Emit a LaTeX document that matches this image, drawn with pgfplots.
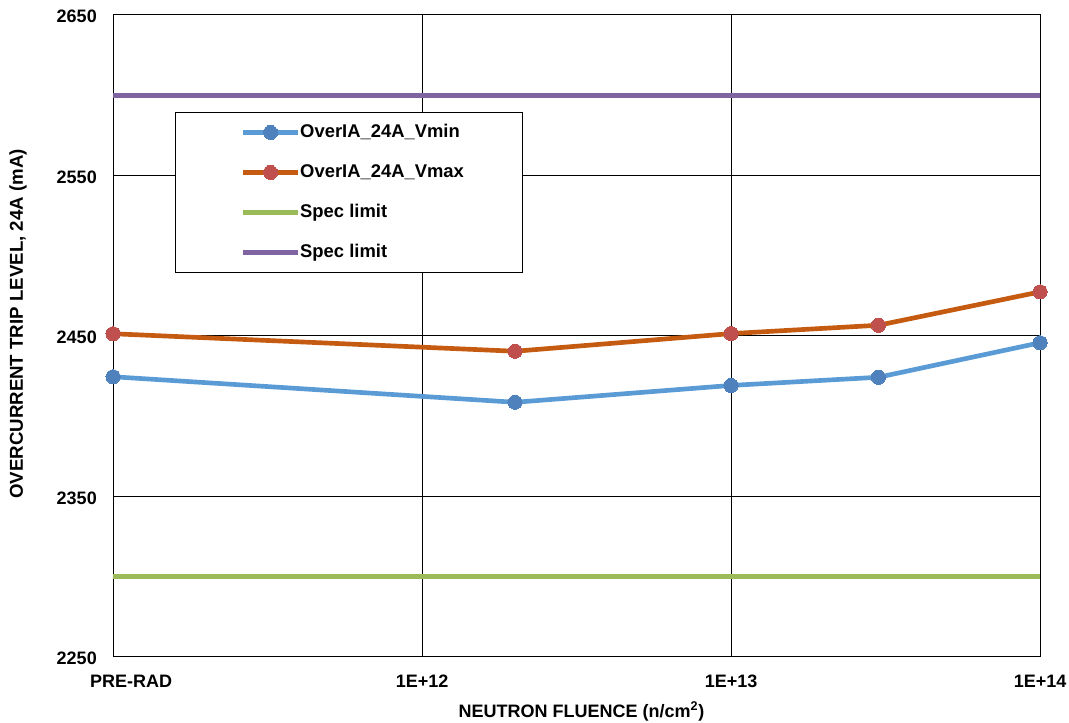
\documentclass[border=0pt]{standalone}
\usepackage{fontspec}
\setmainfont{Liberation Sans}
\usepackage{pgfplots}
\pgfplotsset{compat=1.18}
\definecolor{bline}{HTML}{5B9BD5}
\definecolor{bmark}{HTML}{4F81BD}
\definecolor{oline}{HTML}{C55A11}
\definecolor{omark}{HTML}{C0504D}
\definecolor{gline}{HTML}{9BBB59}
\definecolor{pline}{HTML}{8064A2}
\begin{document}
\begin{tikzpicture}
\useasboundingbox (0,0) rectangle (801.75pt,542.25pt);
\begin{axis}[
  at={(84.75pt,49.5pt)}, anchor=south west,
  scale only axis, width=695.25pt, height=481.5pt,
  xmode=log, xmin=1e11, xmax=1e14,
  ymin=2250, ymax=2650,
  xtick={1e11,1e12,1e13,1e14},
  xticklabels={\hspace*{27pt}PRE-RAD,1E+12,1E+13,1E+14},
  ytick={2250,2350,2450,2550,2650},
  minor xtick={},
  log basis x=10,
  grid=major,
  major grid style={black, line width=0.75pt},
  axis line style={black, line width=0.75pt},
  major tick length=0pt,
  tick style={draw=none},
  font=\fontsize{13.5}{16}\selectfont\bfseries,
  /pgf/number format/assume math mode=true,
  /pgf/number format/.cd, set thousands separator={}, /pgfplots/.cd,
  xticklabel style={anchor=center, yshift=-18pt, font=\fontsize{13.5}{16}\selectfont\bfseries},
  yticklabel style={anchor=east, inner sep=0pt, xshift=-12pt, yshift=-1pt, font=\fontsize{13.5}{16}\selectfont\bfseries},
  xlabel={NEUTRON FLUENCE (n/cm\textsuperscript{2})},
  ylabel={OVERCURRENT TRIP LEVEL, 24A (mA)},
  xlabel style={at={(axis description cs:0.5054,-0.0841)}, anchor=center},
  ylabel style={at={(axis description cs:-0.1025,0.5187)}, anchor=center, font=\fontsize{14}{16}\selectfont\bfseries},
  legend cell align=left,
  legend style={at={(axis description cs:0.0669,0.849)}, anchor=north west,
    draw=black, line width=0.75pt, inner xsep=44pt, inner ysep=8.5pt,
    font=\fontsize{13.8}{16}\selectfont\bfseries,
    row sep=17pt,
    nodes={inner sep=0pt, text height=10pt, text depth=3pt},
    /tikz/every even column/.append style={column sep=4pt}},
  legend image code/.code={\path (0pt,0pt); \draw[mark repeat=2,mark phase=2,#1] plot coordinates {(5pt,0pt)(25.5pt,0pt)(46pt,0pt)};},
]
\addplot[bline, line width=3.5pt, mark=*, mark size=5.3pt, mark options={draw=bmark, fill=bmark, line width=0pt}] coordinates {
(1e11,2424.6) (2e12,2408.7) (1e13,2419.2) (3e13,2424.3) (1e14,2445.8)};
\addlegendentry{OverIA\_24A\_Vmin}
\addplot[oline, line width=3.5pt, mark=*, mark size=5.3pt, mark options={draw=omark, fill=omark, line width=0pt}] coordinates {
(1e11,2451.4) (2e12,2440.5) (1e13,2451.5) (3e13,2456.7) (1e14,2477.5)};
\addlegendentry{OverIA\_24A\_Vmax}
\addplot[gline, line width=3.5pt] coordinates {(1e11,2300) (1e14,2300)};
\addlegendentry{Spec limit}
\addplot[pline, line width=3.5pt] coordinates {(1e11,2600) (1e14,2600)};
\addlegendentry{Spec limit}
\end{axis}
\end{tikzpicture}
\end{document}
